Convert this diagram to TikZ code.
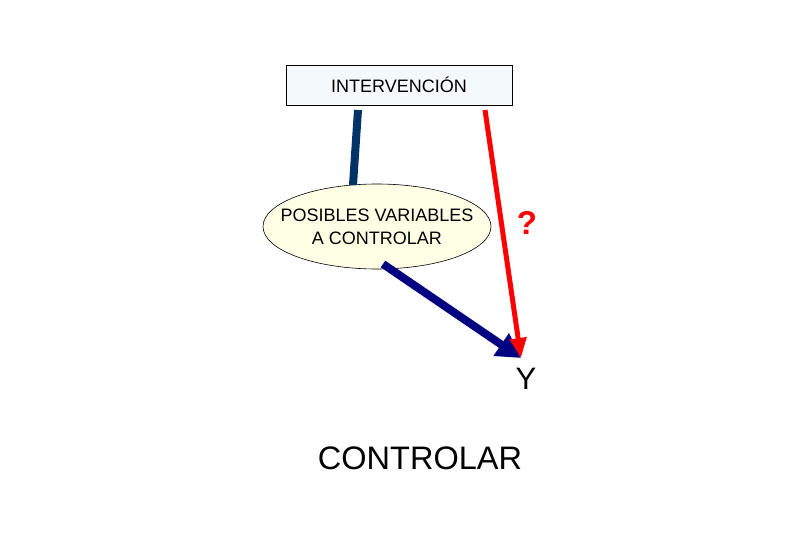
\documentclass[tikz,border=0pt]{standalone}
\usepackage{fontspec}
\setmainfont{Liberation Sans}
\usetikzlibrary{shapes.geometric,arrows.meta}
\definecolor{boxfill}{HTML}{F4F9FB}
\definecolor{ellfill}{HTML}{FFFFE6}
\definecolor{linkblue}{HTML}{003366}
\definecolor{navy}{HTML}{000080}
\begin{document}
\begin{tikzpicture}[x=1pt,y=-1pt,
  boxstyle/.style={draw=black,fill=boxfill,line width=0.8pt,minimum width=226pt,minimum height=40pt,inner sep=0pt,font=\fontsize{18}{20}\selectfont},
  ellstyle/.style={ellipse,draw=black,fill=ellfill,line width=0.6pt,minimum width=228pt,minimum height=85pt,inner sep=0pt},
  elltext/.style={align=center,inner sep=0pt,font=\fontsize{18}{23}\selectfont},
  bigtext/.style={inner sep=0pt,font=\fontsize{32.5}{34}\selectfont}]
\useasboundingbox (0,0) rectangle (810,540);
\node[boxstyle] (iv) at (399,85) {INTERVENCIÓN};
\node[ellstyle] (pv) at (377,226.5) {};
\node[elltext] (pvtext) at (pv.center) {POSIBLES VARIABLES\\A CONTROLAR};
\coordinate (ivl) at (358,110);
\coordinate (pvt) at (353,185);
\coordinate (ivr) at (485,110);
\coordinate (ys) at (521,358);
\coordinate (pvb) at (383,264);
\node[inner sep=0pt,font=\fontsize{31}{34}\selectfont] (y) at (526,379) {Y};
\node[inner sep=0pt,text=red,font=\fontsize{33}{35}\selectfont\bfseries] (q) at (527,223) {?};
\node[bigtext] (ctl) at (420,458) {CONTROLAR};
\draw[linkblue,line width=8pt] (ivl) -- (pvt);
\draw[navy,line width=8pt,-{Triangle[length=24pt,width=26pt]}] (pvb) -- (ys);
\draw[red,line width=5pt,-{Triangle[length=20pt,width=16pt]}] (ivr) -- (ys);
\end{tikzpicture}
\end{document}
